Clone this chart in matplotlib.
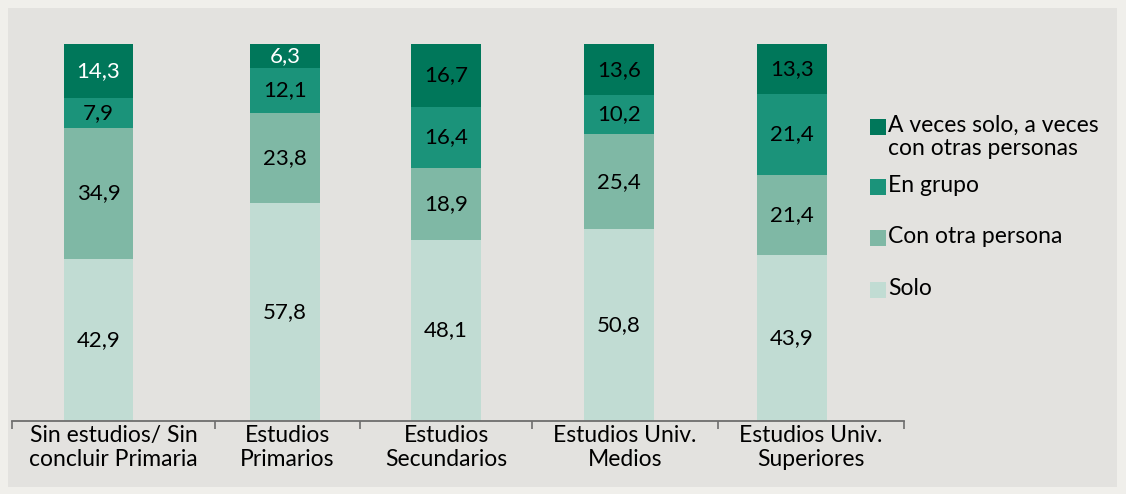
import matplotlib.pyplot as plt
from matplotlib.patches import Rectangle

plt.rcParams['font.family'] = 'Lato'

categorias = ['Sin estudios/ Sin\nconcluir Primaria', 'Estudios\nPrimarios', 'Estudios\nSecundarios',
              'Estudios Univ.\nMedios', 'Estudios Univ.\nSuperiores']
series = ['Solo', 'Con otra persona', 'En grupo', 'A veces solo, a veces\ncon otras personas']
solo = [42.9, 57.8, 48.1, 50.8, 43.9]
con_otra = [34.9, 23.8, 18.9, 25.4, 21.4]
en_grupo = [7.9, 12.1, 16.4, 10.2, 21.4]
a_veces = [14.3, 6.3, 16.7, 13.6, 13.3]

colores = ['#c1dcd3', '#7fb8a5', '#1b937a', '#00775a']
# color del texto de la etiqueta de arriba (solo las dos primeras van en blanco)
col_txt_top = ['white', 'white', 'black', 'black', 'black']

# posiciones de las barras y marcas (en el original no estan equiespaciadas)
xpos = [0, 1.078, 2.009, 3.009, 4.009]
marcas = [-0.5, 0.673, 1.512, 2.506, 3.581, 4.656]

fig = plt.figure(figsize=(11.26, 4.94), dpi=100)
fig.patch.set_facecolor('#f0efeb')
fondo = Rectangle((8/1126, 7/494), 1109/1126, 479/494, transform=fig.transFigure,
                  facecolor='#e3e2df', edgecolor='none', zorder=-10)
fig.patches.append(fondo)

ax = fig.add_axes([12/1126, 73/494, 892/1126, 377/494])
ax.set_facecolor('none')

datos = [solo, con_otra, en_grupo, a_veces]
base = [0] * len(xpos)
for i, vals in enumerate(datos):
    ax.bar(xpos, vals, width=0.4, bottom=base, color=colores[i], zorder=2)
    for j, xp in enumerate(xpos):
        c = col_txt_top[j] if i == 3 else 'black'
        ax.text(xp, base[j] + vals[j] / 2, f'{vals[j]:.1f}'.replace('.', ','), ha='center', va='center',
                fontsize=16, color=c, zorder=3)
    base = [b + v for b, v in zip(base, vals)]

ax.set_ylim(0, 100)
ax.set_xlim(marcas[0], marcas[-1])
ax.set_yticks([])
for s in ['top', 'right', 'left']:
    ax.spines[s].set_visible(False)
ax.spines['bottom'].set_color('#6e6e6e')
ax.spines['bottom'].set_linewidth(1.3)

ax.set_xticks(marcas, minor=True)
ax.tick_params(axis='x', which='minor', length=6, width=1.2, color='#6e6e6e', direction='out')
pos_lab = [(a + b) / 2 for a, b in zip(marcas[:-1], marcas[1:])]
ax.set_xticks(pos_lab)
ax.set_xticklabels(categorias, fontsize=16.5, linespacing=1.17)
ax.tick_params(axis='x', which='major', length=0, pad=3)

# leyenda dibujada a mano: cuadrado alineado con la primera linea
ley_top = [119, 179, 230, 282]
for k, i in enumerate([3, 2, 1, 0]):
    y0 = ley_top[k]
    fig.patches.append(Rectangle((870/1126, 1 - (y0 + 16)/494), 16/1126, 16/494,
                                 transform=fig.transFigure, facecolor=colores[i], edgecolor='none'))
    fig.text(888/1126, 1 - (y0 - 4)/494, series[i], ha='left', va='top', fontsize=16.5,
             linespacing=1.12, color='black')

fig.savefig('out.png', dpi=100, facecolor=fig.get_facecolor())
